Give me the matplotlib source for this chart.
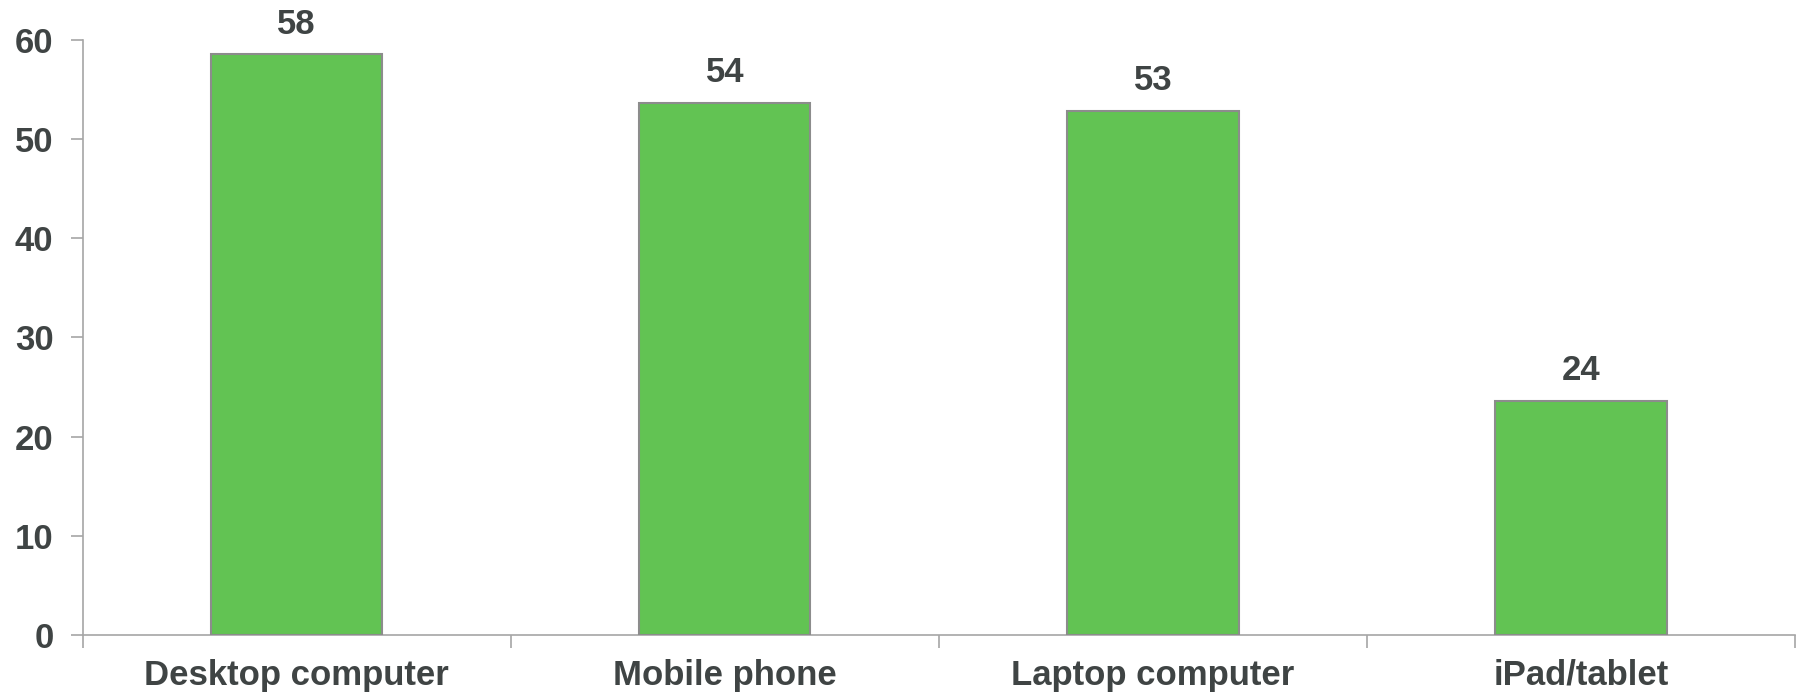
import numpy as np
import matplotlib
matplotlib.use("Agg")
import matplotlib.pyplot as plt

# data
categories = ["Desktop computer", "Mobile phone", "Laptop computer", "iPad/tablet"]
values = [58.5, 53.6, 52.8, 23.6]
labels = ["58", "54", "53", "24"]
y_ticks = [0, 10, 20, 30, 40, 50, 60]

BAR = "#62c353"
EDGE = "#8c8c8c"
AXIS = "#a6a6a6"
TEXT = "#3f4444"
FS = 25

plt.rcParams["font.family"] = ["Liberation Sans", "DejaVu Sans"]
plt.rcParams["font.weight"] = "bold"

fig = plt.figure(figsize=(18.01, 6.96), dpi=100)
ax = fig.add_axes([0.0459, 0.0876, 0.9508, 0.8556])

x = np.arange(len(categories))
bars = ax.bar(x, values, width=0.40, color=BAR, edgecolor=EDGE, linewidth=1.5, zorder=3)

for b, lab in zip(bars, labels):
    ax.annotate(lab, (b.get_x() + b.get_width() / 2, b.get_height()),
                xytext=(0, 10), textcoords="offset points",
                ha="center", va="bottom", fontsize=FS, fontweight="bold", color=TEXT)

ax.set_xlim(-0.5, len(categories) - 0.5)
ax.set_ylim(0, 60)
ax.set_yticks(y_ticks)
ax.set_yticklabels([str(t) for t in y_ticks], fontsize=FS, fontweight="bold", color=TEXT)

# category ticks sit on the boundaries, labels in the middle
ax.set_xticks(np.arange(len(categories) + 1) - 0.5)
ax.set_xticklabels([])
ax.set_xticks(x, minor=True)
ax.set_xticklabels(categories, minor=True, fontsize=FS, fontweight="bold", color=TEXT)
ax.tick_params(axis="x", which="minor", length=0, pad=17)
ax.tick_params(axis="x", which="major", length=9, width=1.2, color=AXIS, direction="out")
ax.tick_params(axis="y", length=9, width=1.2, color=AXIS, pad=12)

for side in ["top", "right"]:
    ax.spines[side].set_visible(False)
for side in ["left", "bottom"]:
    ax.spines[side].set_color(AXIS)
    ax.spines[side].set_linewidth(1.2)

fig.savefig("out.png", dpi=100)
